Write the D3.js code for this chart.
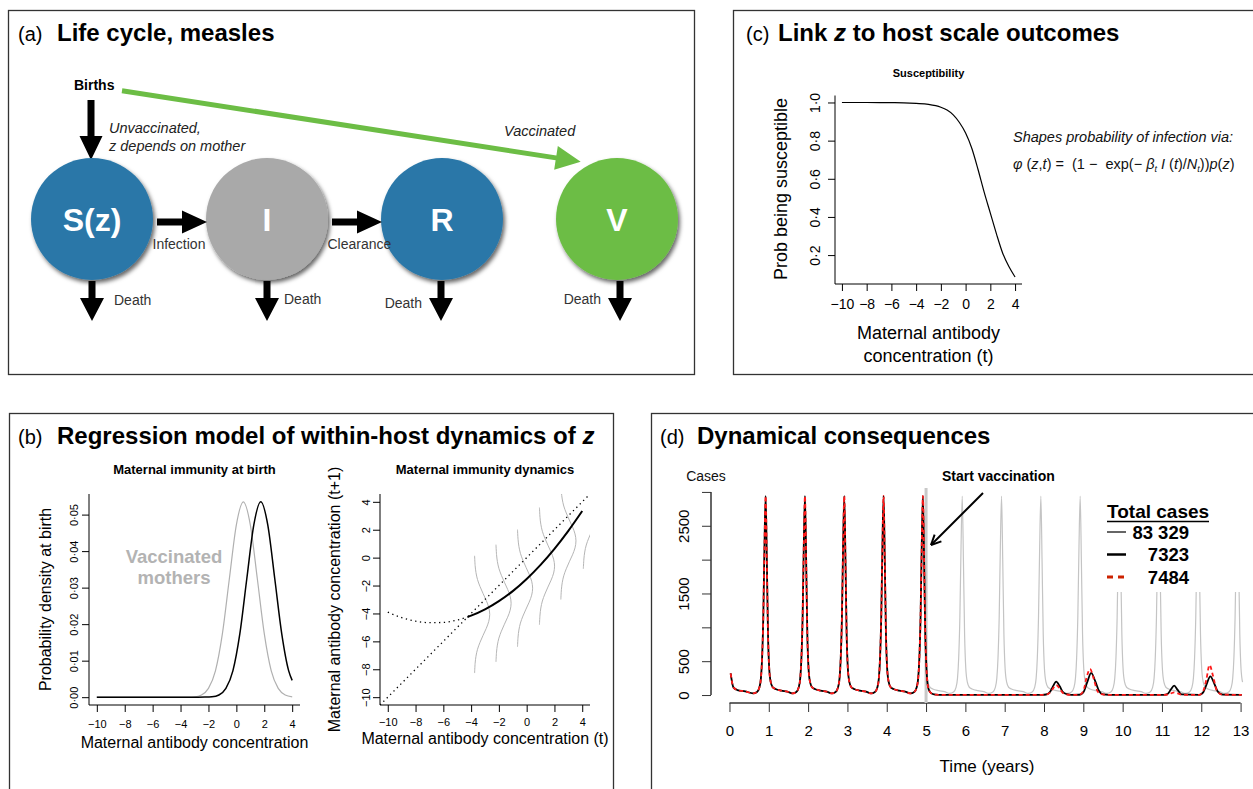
<!DOCTYPE html>
<html>
<head>
<meta charset="utf-8">
<script src="https://cdn.jsdelivr.net/npm/d3@7"></script>
<style>
  body { margin: 0; background: #fff; }
  svg { font-family: "Liberation Sans", Arial, Helvetica, sans-serif; }
</style>
</head>
<body>
<svg id="fig" width="1253" height="789"></svg>
<script>
// ---------------- data ----------------
// (a) life cycle
const compartments = ["S(z)", "I", "R", "V"];
const transitions = ["Infection", "Clearance"];

// (b) maternal immunity at birth (density)
const vaccMothersT = [-10, -4, -3.5, -3, -2.5, -2, -1.5, -1, -0.5, 0, 0.5, 1, 1.5, 2, 2.5, 3, 3.5, 4];
const vaccMothersDens = [0, 0, 0.00002, 0.0001, 0.0006, 0.0024, 0.0072, 0.0174, 0.0325, 0.0472, 0.0535, 0.0472, 0.0325, 0.0174, 0.0072, 0.0024, 0.0006, 0.0001];
const unvaccMothersT = [-10, -3.25, -2.75, -2.25, -1.75, -1.25, -0.75, -0.25, 0.25, 0.75, 1.25, 1.75, 2.25, 2.75, 3.25, 3.75, 4];
const unvaccMothersDens = [0, 0, 0, 0.00002, 0.0001, 0.0006, 0.0024, 0.0072, 0.0174, 0.0325, 0.0472, 0.0535, 0.0472, 0.0325, 0.0174, 0.0072, 0.0046];

// (b) maternal immunity dynamics
const dynT = [-10, -9, -8, -7, -6, -5, -4.25, -4, -3, -2, -1, 0, 1, 2, 3, 4];
const dynNext = [-3.91, -4.30, -4.55, -4.66, -4.64, -4.47, -4.25, -4.16, -3.71, -3.12, -2.40, -1.53, -0.52, 0.63, 1.92, 3.34];
const observedFrom = -4.25;
const kernelBaseT = [-3.76, -2.22, -0.67, 0.91, 2.45, 4.07];
const kernelMean = [-4.07, -3.27, -2.19, -0.61, 1.2, 3.4];
const kernelDy = [-4.2, -3.5, -3, -2.5, -2, -1.5, -1, -0.5, 0, 0.5, 1, 1.5, 2, 2.5, 3, 3.5, 4.2];
const kernelWidth = [0.01, 0.05, 0.11, 0.22, 0.40, 0.62, 0.85, 1.03, 1.1, 1.03, 0.85, 0.62, 0.40, 0.22, 0.11, 0.05, 0.01];

// (c) susceptibility
const suscT = [-10, -8, -6, -5, -4, -3, -2, -1.5, -1, -0.5, 0, 0.5, 1, 1.5, 2, 2.5, 3, 3.5, 4];
const suscProb = [1.0, 1.0, 0.999, 0.998, 0.995, 0.99, 0.975, 0.96, 0.935, 0.895, 0.84, 0.76, 0.65, 0.53, 0.42, 0.31, 0.21, 0.14, 0.085];

// (d) dynamical consequences
const startT = [0.03, 0.1, 0.2, 0.4];
const startCases = [320, 113, 74, 54];
const peakYears = [0.92, 1.92, 2.92, 3.92, 4.92, 5.92, 6.92, 7.92, 8.92, 9.92, 10.92, 11.92, 12.92];
const cycleOffset = [-0.32, -0.22, -0.16, -0.12, -0.09, -0.06, -0.03, 0, 0.03, 0.06, 0.09, 0.13, 0.18, 0.25, 0.4, 0.55];
const cycleCases = [25, 45, 110, 250, 550, 1150, 2200, 2940, 2000, 900, 400, 190, 115, 90, 65, 50];
const vaccStart = 5;
const endT = 13.05;
const blackPostT = [5.05, 5.1, 5.17, 5.25, 5.4, 7.95, 8.05, 8.15, 8.22, 8.31, 8.4, 8.48, 8.58, 8.7, 8.9, 9.0, 9.1, 9.2, 9.3, 9.4, 9.5, 9.65, 11.05, 11.15, 11.23, 11.31, 11.4, 11.5, 11.95, 12.05, 12.13, 12.23, 12.33, 12.42, 12.55, 13.03];
const blackPostCases = [120, 45, 15, 6, 3, 3, 8, 45, 120, 197, 130, 45, 12, 3, 4, 40, 190, 326, 210, 60, 10, 3, 3, 20, 85, 138, 75, 10, 3, 40, 150, 276, 170, 50, 5, 3];
const redPostT = [5.05, 5.1, 5.17, 5.25, 5.4, 7.95, 8.05, 8.15, 8.22, 8.31, 8.4, 8.48, 8.58, 8.7, 8.9, 9.0, 9.08, 9.17, 9.26, 9.35, 9.45, 9.6, 11.05, 11.15, 11.23, 11.31, 11.4, 11.5, 11.95, 12.05, 12.13, 12.21, 12.3, 12.4, 12.55, 13.03];
const redPostCases = [120, 45, 15, 6, 3, 3, 6, 35, 90, 148, 95, 30, 8, 3, 4, 60, 250, 385, 250, 70, 12, 3, 3, 8, 25, 40, 25, 5, 3, 60, 230, 444, 280, 60, 5, 3];
const legendTitle = "Total cases";
const legendValues = ["83 329", "7323", "7484"];
const yearTicks = [0, 1, 2, 3, 4, 5, 6, 7, 8, 9, 10, 11, 12, 13];
const caseTicks = [0, 500, 1000, 1500, 2000, 2500, 3000];
const caseTickLabels = ["0", "500", "", "1500", "", "2500", ""];
const antibodyTicks = [-10, -8, -6, -4, -2, 0, 2, 4];
const densityTicks = [0, 0.01, 0.02, 0.03, 0.04, 0.05];
const probTicks = [0.2, 0.4, 0.6, 0.8, 1.0];

// ---------------- helpers ----------------
const svg = d3.select("#fig");
const minus = s => String(s).replace("-", "\u2212");
const dotDec = s => String(s).replace(".", "\u00b7");

const defs = svg.append("defs");
const flt = defs.append("filter").attr("id", "shadow")
  .attr("x", "-20%").attr("y", "-20%").attr("width", "150%").attr("height", "150%");
flt.append("feDropShadow").attr("dx", 2).attr("dy", 3).attr("stdDeviation", 2)
  .attr("flood-color", "#000").attr("flood-opacity", 0.6);

function txt(g, x, y, s, o = {}) {
  return g.append("text")
    .attr("x", x).attr("y", y)
    .attr("font-size", o.fs || 14)
    .attr("font-weight", o.bold ? "bold" : null)
    .attr("font-style", o.it ? "italic" : null)
    .attr("text-anchor", o.anchor || "start")
    .attr("fill", o.fill || "#000")
    .text(s);
}

function vtxt(g, cx, cy, s, fs) {
  g.append("text")
    .attr("transform", `translate(${cx},${cy}) rotate(-90)`)
    .attr("text-anchor", "middle").attr("dy", "0.35em")
    .attr("font-size", fs).text(s);
}

function blockArrow(g, x1, y1, x2, y2, shaftW, headW, headL, fill) {
  const dx = x2 - x1, dy = y2 - y1, L = Math.hypot(dx, dy);
  const ux = dx / L, uy = dy / L, px = -uy, py = ux;
  const bx = x2 - ux * headL, by = y2 - uy * headL;
  const pts = [
    [x1 + px * shaftW / 2, y1 + py * shaftW / 2],
    [bx + px * shaftW / 2, by + py * shaftW / 2],
    [bx + px * headW / 2, by + py * headW / 2],
    [x2, y2],
    [bx - px * headW / 2, by - py * headW / 2],
    [bx - px * shaftW / 2, by - py * shaftW / 2],
    [x1 - px * shaftW / 2, y1 - py * shaftW / 2]
  ];
  g.append("polygon").attr("points", pts.map(p => p.join(",")).join(" ")).attr("fill", fill);
}

// R-like axes: ticks via d3 axes, rotated y labels
function rAxes(g, x, y, o) {
  const x0 = x.range()[0], y0 = y.range()[0];
  const xa = g.append("g").attr("transform", `translate(0,${y0})`)
    .call(d3.axisBottom(x).tickValues(o.xticks).tickSize(o.tick).tickSizeOuter(0)
      .tickFormat((d, i) => o.xlab ? o.xlab[i] : minus(d)));
  const ya = g.append("g").attr("transform", `translate(${x0},0)`)
    .call(d3.axisLeft(y).tickValues(o.yticks).tickSize(o.tick).tickSizeOuter(0)
      .tickFormat((d, i) => o.ylab ? o.ylab[i] : minus(d)));
  [xa, ya].forEach(a => {
    a.select(".domain").remove();
    a.selectAll("line").attr("stroke", o.color || "#000");
    a.selectAll("text").attr("font-size", o.fs).attr("font-family", null).attr("fill", "#000");
  });
  xa.selectAll("text").attr("y", o.xlabDy).attr("dy", "0.35em");
  ya.selectAll("text").attr("x", 0).attr("y", -o.ylabD).attr("dy", 0)
    .attr("text-anchor", "middle").attr("transform", "rotate(-90)");
  if (o.box) {
    g.append("path").attr("fill", "none").attr("stroke", "#000")
      .attr("d", `M${x0},${y.range()[1]}V${y0}H${x.range()[1]}`);
  } else {
    const xt = o.xticks, yt = o.yticks;
    g.append("line").attr("x1", x(xt[0])).attr("x2", x(xt[xt.length - 1]))
      .attr("y1", y0).attr("y2", y0).attr("stroke", o.color || "#000").attr("stroke-width", o.sw || 1);
    g.append("line").attr("x1", x0).attr("x2", x0)
      .attr("y1", y(yt[0])).attr("y2", y(yt[yt.length - 1])).attr("stroke", o.color || "#000").attr("stroke-width", o.sw || 1);
  }
}

// ---------------- panel frames and titles ----------------
const panels = [
  { x: 8.5, y: 10.5, w: 686, h: 364, tag: "(a)", tx: 18, title: [["Life cycle, measles", false]], tl: 57 },
  { x: 733.5, y: 10.5, w: 540, h: 364, tag: "(c)", tx: 746, title: [["Link ", false], ["z", true], [" to host scale outcomes", false]], tl: 778 },
  { x: 9.5, y: 413.5, w: 604, h: 400, tag: "(b)", tx: 18, title: [["Regression model of within-host dynamics of ", false], ["z", true]], tl: 57 },
  { x: 651.5, y: 413.5, w: 620, h: 400, tag: "(d)", tx: 660, title: [["Dynamical consequences", false]], tl: 697 }
];
panels.forEach(p => {
  svg.append("rect").attr("x", p.x).attr("y", p.y).attr("width", p.w).attr("height", p.h)
    .attr("fill", "none").attr("stroke", "#333").attr("stroke-width", 1.3);
  txt(svg, p.tx, p.y + 30, p.tag, { fs: 20 });
  const t = txt(svg, p.tl, p.y + 30, "", { fs: 24, bold: true });
  p.title.forEach(([s, it]) => t.append("tspan").attr("font-style", it ? "italic" : null).text(s));
});

// ---------------- (a) life cycle ----------------
const ga = svg.append("g");
const nodeX = d3.scalePoint().domain(compartments).range([92, 617]);
const nodeY = 219, nodeR = 61;
const nodeFill = { "S(z)": "#2a77a8", "I": "#a9a9a9", "R": "#2a77a8", "V": "#6cbd45" };

txt(ga, 74, 90, "Births", { fs: 14, bold: true });
blockArrow(ga, 91, 100, 91, 160, 7, 23, 24, "#000");
blockArrow(ga, 122, 90.7, 580.7, 161.7, 5, 24, 25, "#6cbd45");
txt(ga, 109, 133, "Unvaccinated,", { fs: 14.5, it: true, fill: "#222" });
txt(ga, 109, 151, "z depends on mother", { fs: 14.5, it: true, fill: "#222" });
txt(ga, 504, 136, "Vaccinated", { fs: 14.5, it: true, fill: "#222" });

ga.selectAll("circle.node").data(compartments).join("circle")
  .attr("class", "node")
  .attr("cx", d => nodeX(d)).attr("cy", nodeY).attr("r", nodeR)
  .attr("fill", d => nodeFill[d]).attr("filter", "url(#shadow)");
ga.selectAll("text.node").data(compartments).join("text")
  .attr("class", "node")
  .attr("x", d => nodeX(d)).attr("y", nodeY + 11.5)
  .attr("text-anchor", "middle").attr("font-size", 32).attr("font-weight", "bold")
  .attr("fill", "#fff").text(d => d);

// transitions S->I, I->R
transitions.forEach((lab, i) => {
  const xa = nodeX(compartments[i]) + nodeR + 4, xb = nodeX(compartments[i + 1]) - nodeR + 1;
  blockArrow(ga, xa, 222, xb, 222, 7, 23, 25, "#000");
  txt(ga, nodeX(compartments[i]) + nodeR - 0.5, 249, lab, { fs: 14, fill: "#333" });
});

// deaths
const deathOff = [0, 0, -1, 3];
const deathLab = [[22, "start", 305], [17, "start", 304], [-20, "end", 308], [-16, "end", 304]];
compartments.forEach((c, i) => {
  const cx = nodeX(c) + deathOff[i];
  blockArrow(ga, cx, 281, cx, 321, 7, 24, 23, "#000");
  txt(ga, nodeX(c) + deathLab[i][0], deathLab[i][2], "Death", { fs: 14, anchor: deathLab[i][1], fill: "#333" });
});

// ---------------- (c) susceptibility ----------------
const gc = svg.append("g");
const xc = d3.scaleLinear().domain([-10.56, 4.56]).range([835, 1022]);
const yc = d3.scaleLinear().domain([0.0484, 1.0366]).range([284, 95.5]);
rAxes(gc, xc, yc, {
  xticks: antibodyTicks, yticks: probTicks, ylab: probTicks.map(d => dotDec(d.toFixed(1))),
  tick: 7, fs: 14, xlabDy: 20, ylabD: 15, box: true
});
gc.append("path").datum(suscT.map((t, i) => [t, suscProb[i]]))
  .attr("fill", "none").attr("stroke", "#000").attr("stroke-width", 1.2)
  .attr("d", d3.line().x(d => xc(d[0])).y(d => yc(d[1])).curve(d3.curveMonotoneX));
txt(gc, 928.5, 77, "Susceptibility", { fs: 11, bold: true, anchor: "middle" });
vtxt(gc, 781, 189, "Prob being susceptible", 18);
txt(gc, 928.5, 339, "Maternal antibody", { fs: 18, anchor: "middle" });
txt(gc, 928.5, 362, "concentration (t)", { fs: 18, anchor: "middle" });
txt(gc, 1013, 142, "Shapes probability of infection via:", { fs: 14.5, it: true, fill: "#111" });
const fm = txt(gc, 1013, 169, "", { fs: 14.5, fill: "#111" }).attr("xml:space", "preserve");
[["\u03c6", 1], [" (", 0], ["z", 1], [",", 0], ["t", 1], [") =  (1 \u2212  exp(\u2212 ", 0], ["\u03b2", 1], ["t", 2], [" I", 1], [" (", 0], ["t", 1], [")/", 0], ["N", 1], ["t", 2], ["))", 0], ["p", 1], ["(", 0], ["z", 1], [")", 0]]
  .forEach(([s, k], i, arr) => {
    const ts = fm.append("tspan").text(s).attr("font-style", k ? "italic" : null);
    if (k === 2) ts.attr("font-size", 9).attr("dy", 3);
    else if (i > 0 && arr[i - 1][1] === 2) ts.attr("dy", -3);
  });

// ---------------- (b) left: immunity at birth ----------------
const gb1 = svg.append("g");
const xb1 = d3.scaleLinear().domain([-10.56, 4.56]).range([89, 300]);
const yb1 = d3.scaleLinear().domain([-0.00214, 0.05564]).range([705, 494]);
rAxes(gb1, xb1, yb1, {
  xticks: antibodyTicks, yticks: densityTicks, ylab: densityTicks.map(d => dotDec(d.toFixed(2))),
  tick: 7, fs: 11, xlabDy: 19, ylabD: 11, box: true
});
const lineB1 = d3.line().x(d => xb1(d[0])).y(d => yb1(d[1])).curve(d3.curveMonotoneX);
gb1.append("path").datum(vaccMothersT.map((t, i) => [t, vaccMothersDens[i]]))
  .attr("fill", "none").attr("stroke", "#b0b0b0").attr("stroke-width", 1.2).attr("d", lineB1);
gb1.append("path").datum(unvaccMothersT.map((t, i) => [t, unvaccMothersDens[i]]))
  .attr("fill", "none").attr("stroke", "#000").attr("stroke-width", 1.5).attr("d", lineB1);
txt(gb1, 194.5, 474, "Maternal immunity at birth", { fs: 13, bold: true, anchor: "middle" });
txt(gb1, 174, 563, "Vaccinated", { fs: 18.5, bold: true, anchor: "middle", fill: "#b3b3b3" });
txt(gb1, 174, 584, "mothers", { fs: 18.5, bold: true, anchor: "middle", fill: "#b3b3b3" });
vtxt(gb1, 45, 599.5, "Probability density at birth", 16);
txt(gb1, 194.5, 748, "Maternal antibody concentration", { fs: 16, anchor: "middle" });

// ---------------- (b) right: immunity dynamics ----------------
const gb2 = svg.append("g");
const xb2 = d3.scaleLinear().domain([-10.56, 4.56]).range([380, 590]);
const yb2 = d3.scaleLinear().domain([-10.56, 4.56]).range([705, 494]);
defs.append("clipPath").attr("id", "clipB2").append("rect")
  .attr("x", 380).attr("y", 494).attr("width", 210).attr("height", 211);
rAxes(gb2, xb2, yb2, {
  xticks: antibodyTicks, yticks: antibodyTicks,
  tick: 7, fs: 11, xlabDy: 17, ylabD: 10, box: true
});
const gb2c = gb2.append("g").attr("clip-path", "url(#clipB2)");
const lineB2 = d3.line().x(d => xb2(d[0])).y(d => yb2(d[1])).curve(d3.curveMonotoneX);
kernelBaseT.forEach((b, k) => {
  gb2c.append("path").datum(kernelDy.map((dy, i) => [b + kernelWidth[i], kernelMean[k] + dy]))
    .attr("fill", "none").attr("stroke", "#b5b5b5").attr("stroke-width", 1)
    .attr("d", d3.line().x(d => xb2(d[0])).y(d => yb2(d[1])).curve(d3.curveCatmullRom));
});
gb2c.append("line").attr("x1", xb2(-10.56)).attr("y1", yb2(-10.56)).attr("x2", xb2(4.56)).attr("y2", yb2(4.56))
  .attr("stroke", "#000").attr("stroke-width", 1.3).attr("stroke-dasharray", "1.3,3.5");
const dynPts = dynT.map((t, i) => [t, dynNext[i]]);
gb2c.append("path").datum(dynPts.filter(d => d[0] <= observedFrom))
  .attr("fill", "none").attr("stroke", "#000").attr("stroke-width", 1.3).attr("stroke-dasharray", "1.3,3.5")
  .attr("d", lineB2);
gb2c.append("path").datum(dynPts.filter(d => d[0] >= observedFrom))
  .attr("fill", "none").attr("stroke", "#000").attr("stroke-width", 2).attr("d", lineB2);
txt(gb2, 485, 474, "Maternal immunity dynamics", { fs: 13, bold: true, anchor: "middle" });
vtxt(gb2, 334, 599.5, "Maternal antibody concentration (t+1)", 16);
txt(gb2, 485, 744, "Maternal antibody concentration (t)", { fs: 16, anchor: "middle" });

// ---------------- (d) dynamical consequences ----------------
const gd = svg.append("g");
const xd = d3.scaleLinear().domain([-0.47, 13.57]).range([711, 1263]);
const yd = d3.scaleLinear().domain([-117.6, 3058]).range([703, 488]);
rAxes(gd, xd, yd, {
  xticks: yearTicks, yticks: caseTicks, ylab: caseTickLabels,
  tick: 9, fs: 15, xlabDy: 28, ylabD: 22.5, box: false, color: "#333", sw: 1.5
});

// series assembled from the start segment and the yearly epidemic cycle
const noVacc = startT.map((t, i) => [t, startCases[i]]);
peakYears.forEach(p => cycleOffset.forEach((o, i) => noVacc.push([p + o, cycleCases[i]])));
const noVaccPts = noVacc.filter(d => d[0] <= endT);
const preVacc = noVaccPts.filter(d => d[0] < vaccStart + 0.02);
const blackPts = preVacc.concat(blackPostT.map((t, i) => [t, blackPostCases[i]]));
const redPts = preVacc.concat(redPostT.map((t, i) => [t, redPostCases[i]]));
const lineD = d3.line().x(d => xd(d[0])).y(d => yd(d[1])).curve(d3.curveMonotoneX);

gd.append("path").datum(noVaccPts).attr("fill", "none").attr("stroke", "#c4c4c4")
  .attr("stroke-width", 1.2).attr("d", lineD);
gd.append("line").attr("x1", xd(vaccStart)).attr("x2", xd(vaccStart)).attr("y1", 488).attr("y2", 703)
  .attr("stroke", "#c8c8c8").attr("stroke-width", 3);
gd.append("path").datum(blackPts).attr("fill", "none").attr("stroke", "#000")
  .attr("stroke-width", 1.8).attr("d", lineD);
gd.append("path").datum(redPts).attr("fill", "none").attr("stroke", "#ff1a1a")
  .attr("stroke-width", 1.8).attr("stroke-dasharray", "4,3").attr("d", lineD);

txt(gd, 706, 481, "Cases", { fs: 14, anchor: "middle", fill: "#111" });
txt(gd, 942, 481, "Start vaccination", { fs: 14, bold: true });
// arrow pointing at the vaccination start
const ax1 = 983, ay1 = 493, ax2 = 931, ay2 = 545;
gd.append("line").attr("x1", ax1).attr("y1", ay1).attr("x2", ax2).attr("y2", ay2)
  .attr("stroke", "#000").attr("stroke-width", 2);
const ang = Math.atan2(ay2 - ay1, ax2 - ax1);
[-0.45, 0.45].forEach(a => {
  gd.append("line").attr("x1", ax2).attr("y1", ay2)
    .attr("x2", ax2 - 11 * Math.cos(ang + a)).attr("y2", ay2 - 11 * Math.sin(ang + a))
    .attr("stroke", "#000").attr("stroke-width", 2);
});
txt(gd, 987, 772, "Time (years)", { fs: 17, anchor: "middle" });

// legend (white box over the grey peaks)
gd.append("rect").attr("x", 1098).attr("y", 490).attr("width", 160).attr("height", 102).attr("fill", "#fff");
txt(gd, 1107, 518, legendTitle, { fs: 19, bold: true });
gd.append("line").attr("x1", 1107).attr("x2", 1209).attr("y1", 521.5).attr("y2", 521.5)
  .attr("stroke", "#000").attr("stroke-width", 1.6);
const legStyle = [
  { stroke: "#666", sw: 2, dash: null },
  { stroke: "#000", sw: 2.5, dash: null },
  { stroke: "#cc2200", sw: 3, dash: "6,5" }
];
const legY = d3.scalePoint().domain(legendValues).range([532, 577]);
legendValues.forEach((v, i) => {
  gd.append("line").attr("x1", 1107).attr("x2", 1126).attr("y1", legY(v)).attr("y2", legY(v))
    .attr("stroke", legStyle[i].stroke).attr("stroke-width", legStyle[i].sw)
    .attr("stroke-dasharray", legStyle[i].dash);
  txt(gd, 1189, legY(v) + 6.5, v, { fs: 18.5, bold: true, anchor: "end" });
});
</script>
</body>
</html>
